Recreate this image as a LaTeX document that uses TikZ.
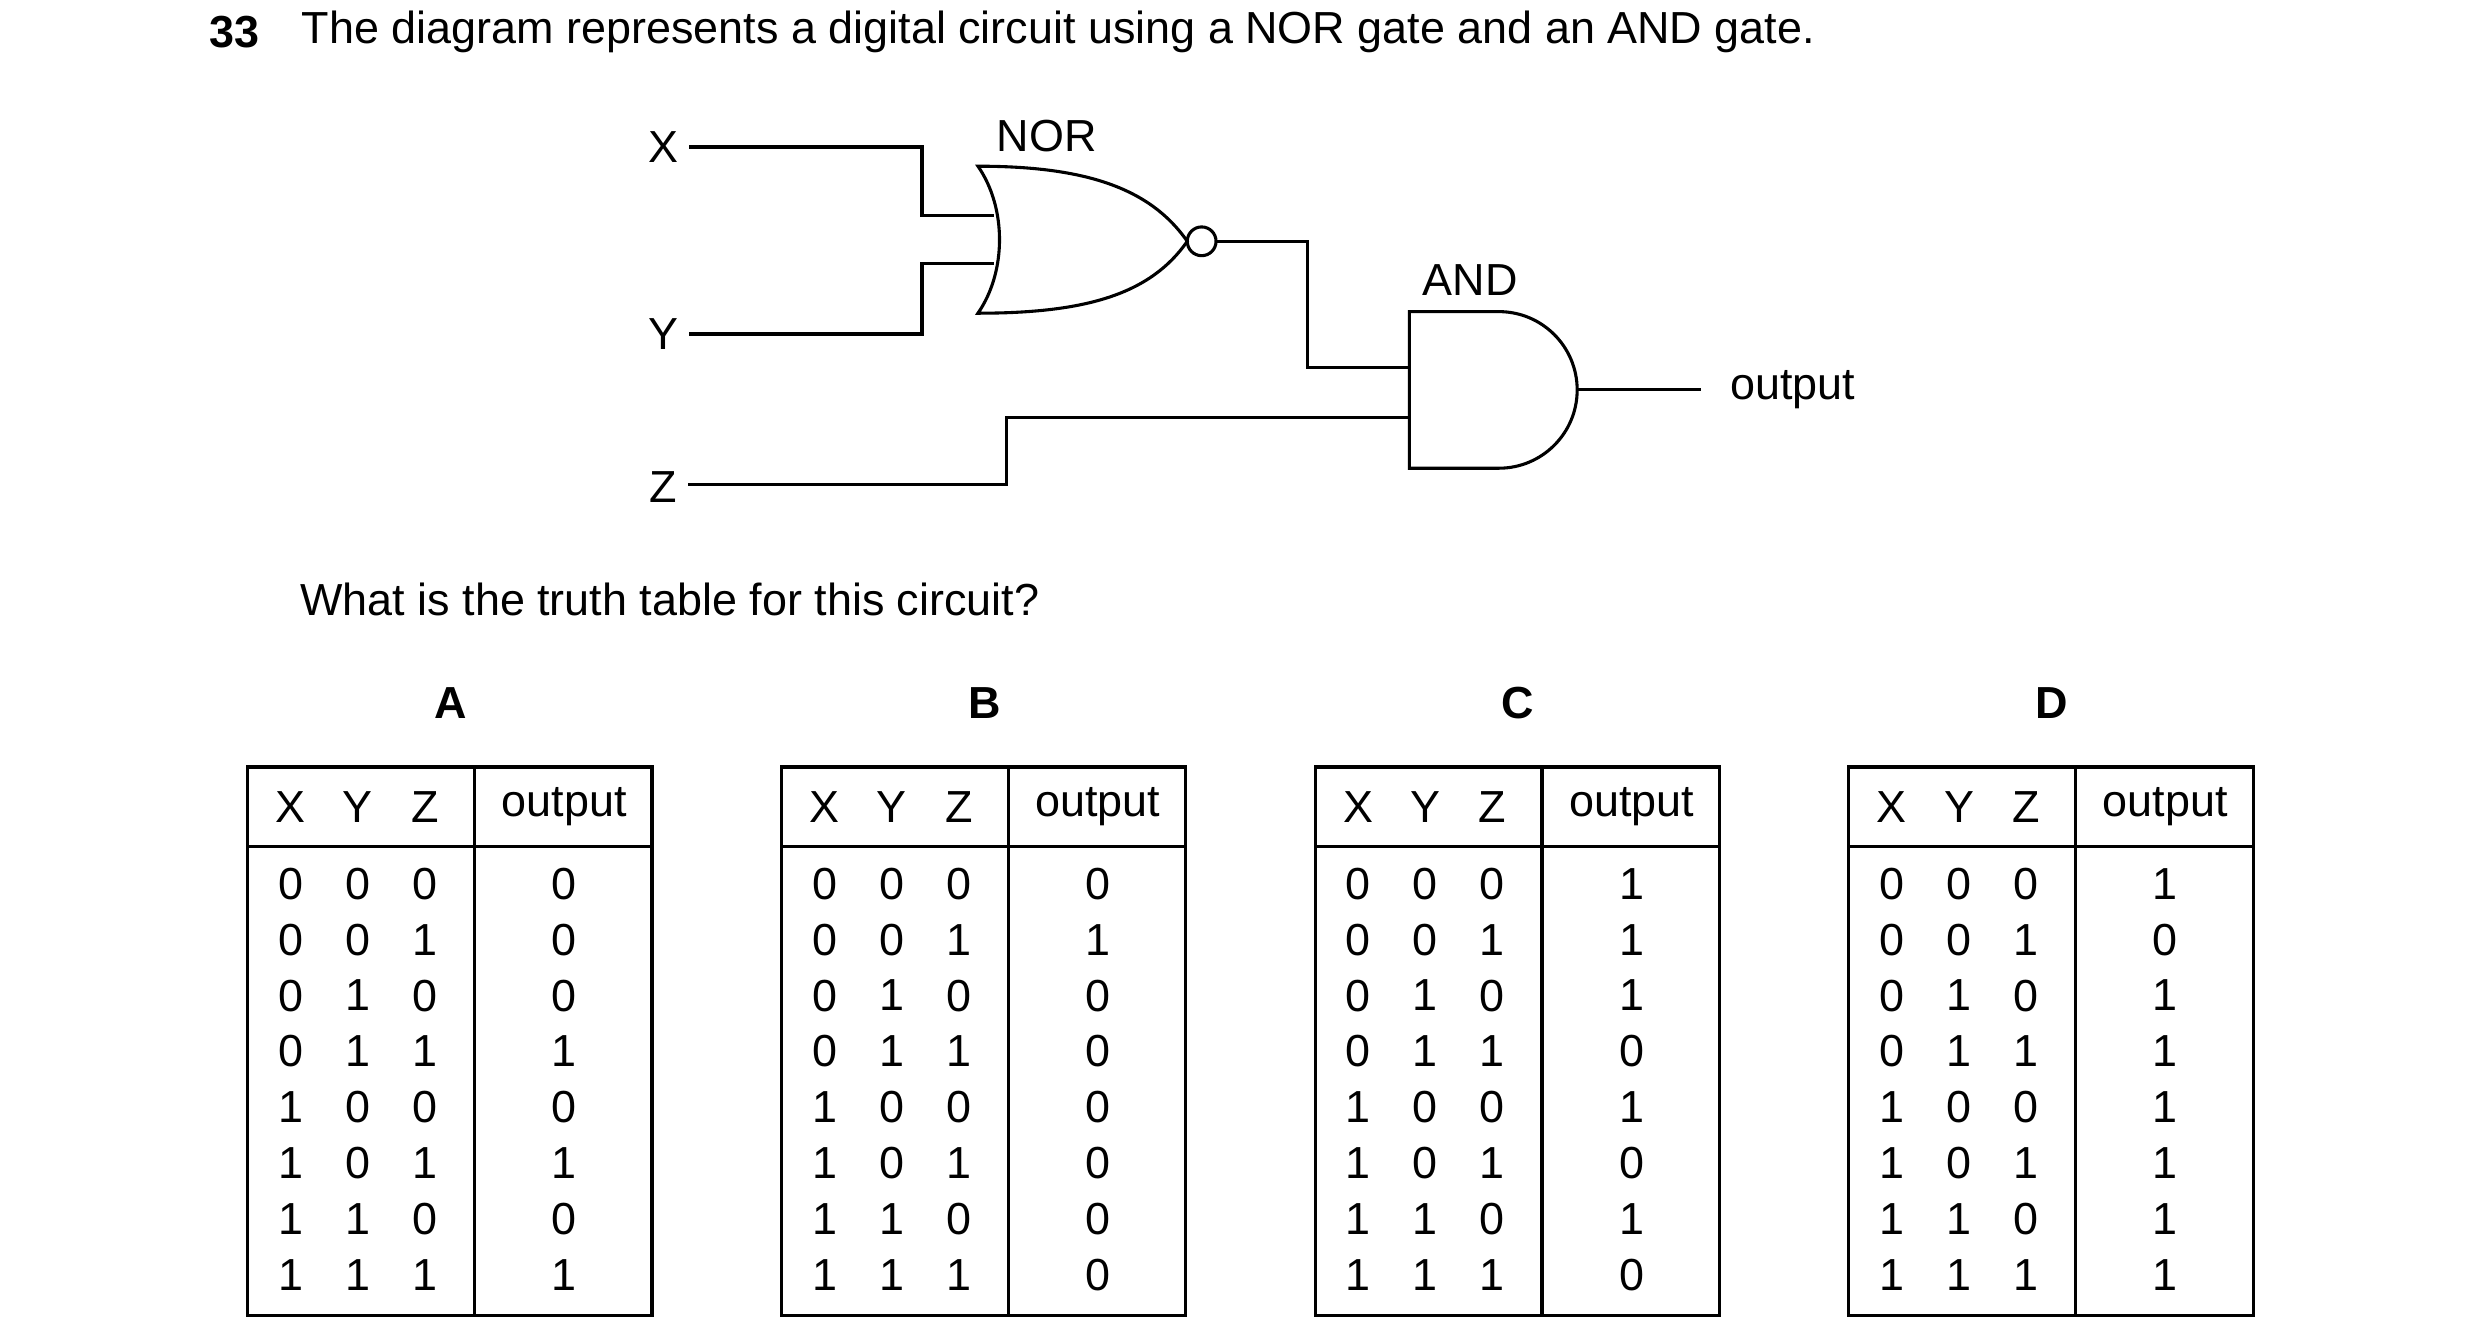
\documentclass[tikz,border=0pt]{standalone}
\usepackage{fontspec}
\setmainfont{Liberation Sans}
\begin{document}
\begin{tikzpicture}[x=0.02cm, y=-0.02cm, line width=1.1pt, font=\fontsize{16}{19}\selectfont,
    lbl/.style={inner sep=0pt},
    wire/.style={line width=1.1pt}]
    \useasboundingbox (0,0) rectangle (1552,840);
    % Title
    \node[lbl, font=\fontsize{16}{19}\selectfont\bfseries] (num) at (147,20) {33};
    \node[lbl, anchor=west] (title) at (188,20) {The diagram represents a digital circuit using a NOR gate and an AND gate.};

    % Inputs
    \node[lbl] (X) at (415,92) {X};
    \node[lbl] (Y) at (415,209) {Y};
    \node[lbl] (Z) at (415,305) {Z};
    \coordinate (nin1) at (622,135);
    \coordinate (nin2) at (622,165);
    \coordinate (nout) at (761,151);
    \coordinate (ain1) at (882,230);
    \coordinate (ain2) at (882,261);
    \coordinate (aout) at (987,244);

    % NOR gate
    \draw (612,104) .. controls (680,104) and (720,118) .. (743,151)
          .. controls (720,184) and (680,196) .. (612,196)
          .. controls (630,170) and (630,130) .. cycle;
    \draw (752,151) circle (9);
    \node[lbl] (norlbl) at (655,85) {NOR};

    % AND gate
    \draw (938,195) -- (882,195) -- (882,293) -- (938,293) arc (90:-90:49);
    \node[lbl] (andlbl) at (920,175) {AND};

    % Wires
    \draw[wire] (X.east) ++(6,0) -- (577,92) -- (577,135) -- (nin1);
    \draw[wire] (Y.east) ++(6,0) -- (577,209) -- (577,165) -- (nin2);
    \draw[wire] (nout) -- (818,151) -- (818,230) -- (ain1);
    \draw[wire] (Z.east) ++(6,-2) -- (630,303) -- (630,261) -- (ain2);
    \node[lbl] (out) at (1122,244) {output};
    \draw[wire] (aout) -- ([xshift=-10]out.west);

    \node[lbl, anchor=west] (question) at (187,375) {What is the truth table for this circuit?};

    % Tables
    \foreach \name/\dx/\outs in {A/0/{0,0,0,1,0,1,0,1}, B/334/{0,1,0,0,0,0,0,0},
                                 C/668/{1,1,1,0,1,0,1,0}, D/1002/{1,0,1,1,1,1,1,1}} {
        \begin{scope}[xshift=\dx*0.02cm]
            \node[lbl, font=\fontsize{16}{19}\selectfont\bfseries] (tab\name) at (282,440) {\name};
            \draw (155,480) rectangle (408,823);
            \draw (155,530) -- (408,530);
            \draw (297,480) -- (297,823);
            \node[lbl] (hx\name) at (182,505) {X};
            \node[lbl] (hy\name) at (224,505) {Y};
            \node[lbl] (hz\name) at (266,505) {Z};
            \node[lbl] (ho\name) at (353,505) {output};
            \foreach \o [count=\i from 0] in \outs {
                \pgfmathtruncatemacro{\bx}{div(\i,4)}
                \pgfmathtruncatemacro{\by}{mod(div(\i,2),2)}
                \pgfmathtruncatemacro{\bz}{mod(\i,2)}
                \node[lbl] at (182,553+35*\i) {\bx};
                \node[lbl] at (224,553+35*\i) {\by};
                \node[lbl] at (266,553+35*\i) {\bz};
                \node[lbl] at (353,553+35*\i) {\o};
            }
        \end{scope}
    }
\end{tikzpicture}
\end{document}
